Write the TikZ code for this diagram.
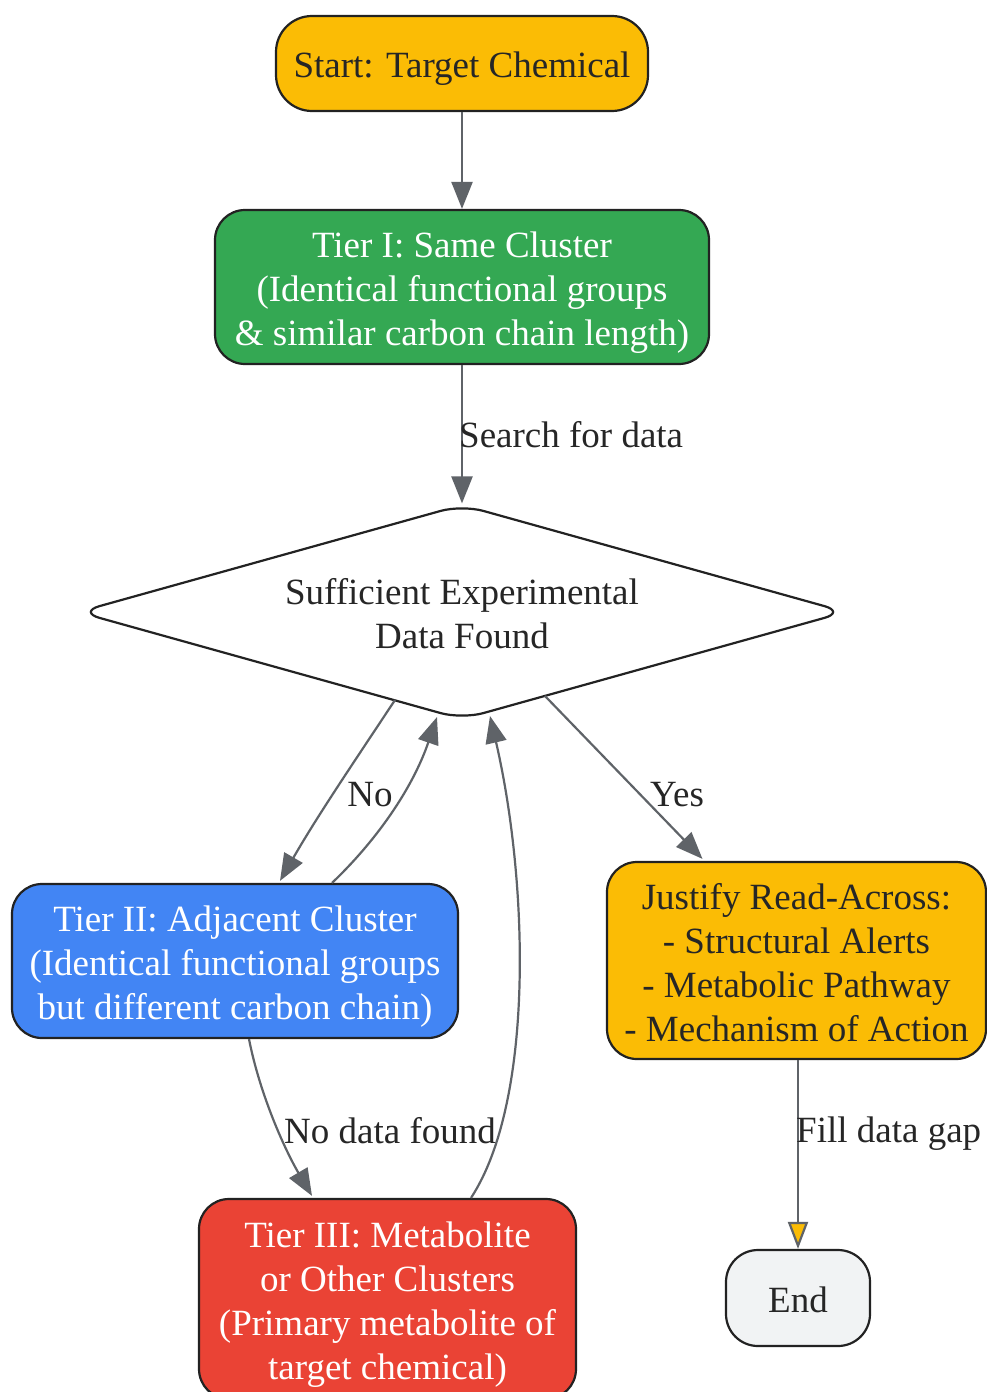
\documentclass[tikz,border=0pt]{standalone}
\usepackage{fontspec}
\setmainfont{Liberation Serif}
\usetikzlibrary{arrows.meta,shapes.geometric,calc}
\definecolor{gyel}{HTML}{FBBC05}
\definecolor{ggreen}{HTML}{34A853}
\definecolor{gblue}{HTML}{4285F4}
\definecolor{gred}{HTML}{EA4335}
\definecolor{gend}{HTML}{F1F3F4}
\definecolor{bord}{HTML}{222222}
\definecolor{txt}{HTML}{262626}
\definecolor{egray}{HTML}{5F6368}
\newcommand{\mystrut}{\rule[-7pt]{0pt}{43pt}}
\begin{document}
\begin{tikzpicture}[x=1pt,y=1pt,
  bigfont/.style={font=\fontsize{37}{44}\selectfont},
  box/.style={draw=bord, line width=2.2pt, rounded corners=30pt, align=center, bigfont, text=txt, inner sep=0pt},
  edge/.style={draw=egray, line width=2.2pt, -{Triangle[length=27pt,width=21pt]}},
  yedge/.style={draw=egray, line width=2.2pt, -{Triangle[length=27pt,width=20pt,fill=gyel]}},
  lbl/.style={bigfont, text=txt, inner sep=0pt}]
\useasboundingbox (0,0) rectangle (987,-1392);
% nodes
\node[box, fill=gyel, minimum width=372pt, minimum height=95pt, rounded corners=36pt] (start) at (462,-63.5) {\mystrut Start: Target Chemical\mystrut};
\node[box, fill=ggreen, text=white, minimum width=494pt, minimum height=154pt] (t1) at (462,-287) {\mystrut Tier I: Same Cluster\\(Identical functional groups\\\& similar carbon chain length)\mystrut};
\node[diamond, aspect=3.5, draw=bord, fill=white, line width=2.2pt, rounded corners=22pt, minimum width=768pt, minimum height=215pt, inner sep=0pt, align=center, bigfont, text=txt] (dec) at (462,-612) {\mystrut Sufficient Experimental\\Data Found\mystrut};
\node[box, fill=gblue, text=white, minimum width=446pt, minimum height=154pt] (t2) at (235,-961) {\mystrut Tier II: Adjacent Cluster\\(Identical functional groups\\but different carbon chain)\mystrut};
\node[box, fill=gyel, minimum width=379pt, minimum height=197pt] (just) at (796.5,-960.5) {\mystrut Justify Read-Across:\\- Structural Alerts\\- Metabolic Pathway\\- Mechanism of Action\mystrut};
\node[box, fill=gred, text=white, minimum width=377pt, minimum height=200pt] (t3) at (387.5,-1299) {\mystrut Tier III: Metabolite\\or Other Clusters\\(Primary metabolite of\\target chemical)\mystrut};
\node[box, fill=gend, minimum width=144pt, minimum height=96pt, rounded corners=32pt] (end) at (798,-1298) {\mystrut End\mystrut};
% edges
\draw[edge] (start.south) -- (t1.north);
\draw[edge] (t1.south) -- (dec.north);
\draw[edge] ($(dec.center)+(-67,-88)$) .. controls (352,-765) and (318,-815) .. ($(t2.north)+(45,2)$);
\draw[edge] ($(t2.north)+(97,0)$) .. controls (375,-842) and (412,-790) .. ($(dec.center)+(-25,-105)$);
\draw[edge] ($(t3.north)+(83.5,0)$) .. controls (535,-1100) and (528,-880) .. ($(dec.center)+(28,-104)$);
\draw[edge] ($(t2.south)+(14,0)$) .. controls (260,-1095) and (285,-1150) .. ($(t3.north)+(-75.5,2)$);
\draw[edge] ($(dec.center)+(83,-84)$) -- ($(just.north)+(-94,2)$);
\draw[yedge] (end.north |- just.south) -- (end.north);
% labels
\node[lbl, anchor=west] (lsearch) at (459,-435) {Search for data};
\node[lbl] (lno) at (370,-795) {No};
\node[lbl] (lyes) at (677,-795) {Yes};
\node[lbl] (lnodata) at (390,-1131) {No data found};
\node[lbl, anchor=base west] (lfill) at (796,-1142) {Fill data gap};
\end{tikzpicture}
\end{document}
